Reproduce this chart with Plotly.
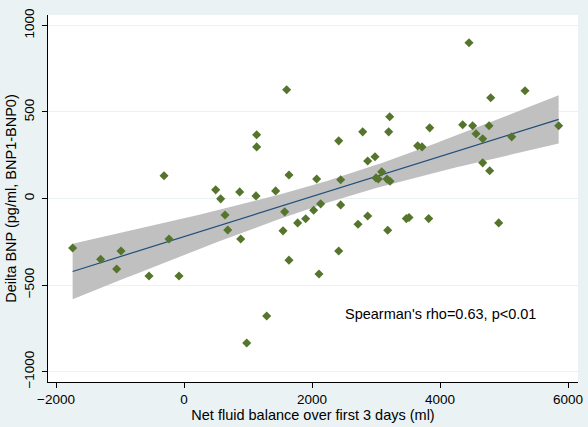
import numpy as np
import plotly.graph_objects as go

# net fluid balance (ml) and delta BNP (pg/ml)
fluid = [-1740, -1302, -984, -1052, -547, -312, -234, -78, 495, 573,
         641, 683, 870, 886, 980, 1125, 1135, 1135, 1292, 1432,
         1573, 1547, 1604, 1640, 1640, 1776, 1901, 2026, 2073, 2135,
         2109, 2417, 2448, 2448, 2417, 2719, 2792, 2870, 2870, 2984,
         3000, 3036, 3089, 3172, 3219, 3198, 3214, 3183, 3474, 3516,
         3651, 3719, 3823, 3839, 4354, 4453, 4510, 4563, 4667, 4667,
         4766, 4792, 4776, 4917, 5120, 5328, 5854]
dbnp = [-286, -351, -303, -407, -448, 131, -234, -448, 50, -2,
        -95, -182, 38, -234, -835, 15, 368, 298, -679, 44,
        -77, -187, 628, 136, -356, -141, -117, -68, 113, -31,
        -436, 333, 108, -37, -303, -149, 385, 217, -101, 241,
        119, 113, 154, 112, 100, 385, 472, -183, -116, -110,
        304, 298, -116, 408, 426, 900, 420, 374, 345, 206,
        420, 582, 160, -141, 356, 622, 420]

x_ticks = [-2000, 0, 2000, 4000, 6000]
y_ticks = [-1000, -500, 0, 500, 1000]
note = "Spearman's rho=0.63, p<0.01"

FONT = "Liberation Sans, Arial, sans-serif"

# linear fit with 95% CI of the mean (like lfitci)
x = np.array(fluid, dtype=float)
y = np.array(dbnp, dtype=float)
n = len(x)
b1, b0 = np.polyfit(x, y, 1)
resid = y - (b0 + b1 * x)
s = np.sqrt((resid ** 2).sum() / (n - 2))
sxx = ((x - x.mean()) ** 2).sum()
t_crit = 1.997
xg = np.linspace(x.min(), x.max(), 100)
yg = b0 + b1 * xg
half = t_crit * s * np.sqrt(1 / n + (xg - x.mean()) ** 2 / sxx)

fig = go.Figure()
fig.add_trace(go.Scatter(x=np.concatenate([xg, xg[::-1]]),
                         y=np.concatenate([yg + half, (yg - half)[::-1]]),
                         fill="toself", fillcolor="#C0C0C0", line=dict(width=0),
                         mode="lines", hoverinfo="skip"))
fig.add_trace(go.Scatter(x=xg, y=yg, mode="lines",
                         line=dict(color="#1F4E79", width=1.2)))
fig.add_trace(go.Scatter(x=fluid, y=dbnp, mode="markers",
                         marker=dict(symbol="diamond", size=7, color="#55752D")))

fig.add_annotation(x=4000, y=-665, text=note, showarrow=False,
                   font=dict(family=FONT, size=14.5, color="black"))

fig.update_layout(
    width=588, height=427,
    margin=dict(l=48, r=10, t=15, b=45),
    paper_bgcolor="#EAF2F3", plot_bgcolor="white",
    showlegend=False,
    font=dict(family=FONT, size=13.5, color="black"),
)
fig.update_xaxes(range=[-2125, 6156], tickvals=x_ticks, showgrid=False,
                 zeroline=False, showline=True, linecolor="black", linewidth=1,
                 ticks="outside", ticklen=5, tickcolor="black", automargin=False,
                 tickfont=dict(family=FONT, size=13.5),
                 title=dict(text="Net fluid balance over first 3 days (ml)",
                            font=dict(family=FONT, size=14.5, color="black"), standoff=2))
fig.update_yaxes(range=[-1060, 1060], tickvals=y_ticks, tickangle=-90,
                 showgrid=True, gridcolor="#EAF2F3", gridwidth=1,
                 zeroline=False, showline=True, linecolor="black", linewidth=1,
                 ticks="outside", ticklen=5, tickcolor="black", automargin=False,
                 ticklabelstandoff=3, tickfont=dict(family=FONT, size=13.5),
                 title=dict(text="Deilta BNP (pg/ml, BNP1-BNP0)",
                            font=dict(family=FONT, size=14.5, color="black"), standoff=1))

# drop the page's default body margin so the figure fills the window
fig.write_html("out.html", config={"displayModeBar": False},
               post_script="document.body.style.margin='0';")
